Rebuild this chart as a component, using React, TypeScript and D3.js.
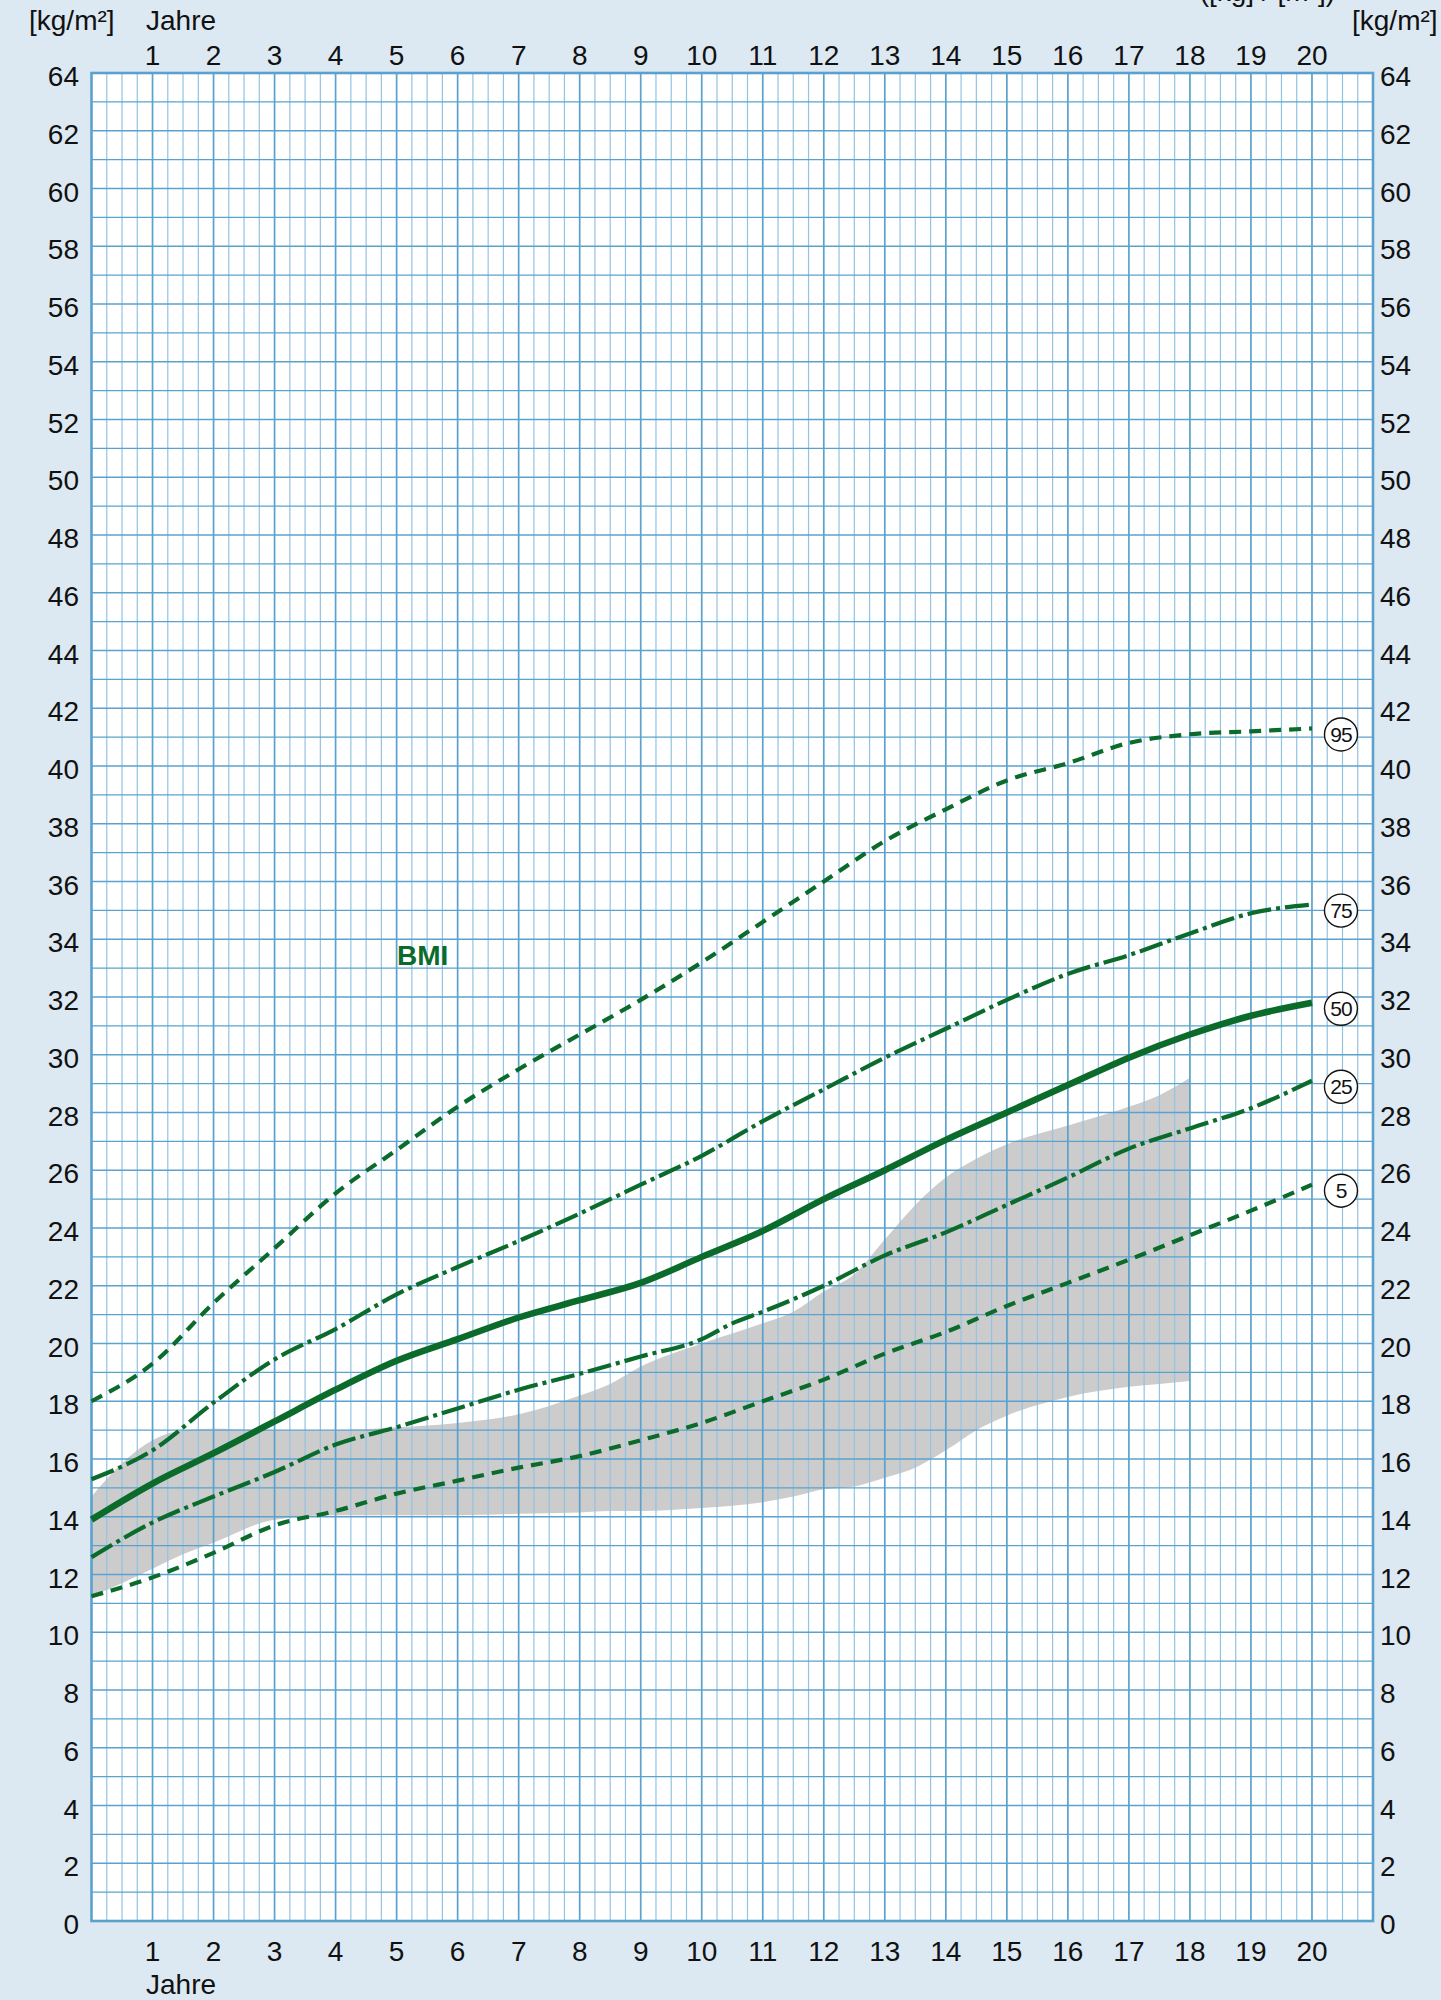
import React, { useEffect, useRef } from 'react';
import * as d3 from 'd3';

// percentile curves, age in years -> BMI in kg/m²
const ages = [0, 1, 2, 3, 4, 5, 6, 7, 8, 9, 10, 11, 12, 13, 14, 15, 16, 17, 18, 19, 20];
const p95 = [18.0, 19.3, 21.4, 23.3, 25.2, 26.7, 28.2, 29.5, 30.7, 31.9, 33.2, 34.6, 36.0, 37.4, 38.5, 39.5, 40.1, 40.8, 41.1, 41.2, 41.3];
const p75 = [15.3, 16.3, 17.95, 19.45, 20.5, 21.7, 22.65, 23.55, 24.5, 25.5, 26.5, 27.7, 28.8, 29.9, 30.9, 31.9, 32.8, 33.45, 34.2, 34.9, 35.2];
const p50 = [13.9, 15.15, 16.2, 17.3, 18.4, 19.4, 20.15, 20.9, 21.5, 22.1, 23.0, 23.9, 25.0, 26.0, 27.05, 28.0, 28.95, 29.9, 30.7, 31.35, 31.8];
const p25Ages = [0, 1, 2, 3, 4, 5, 6, 7, 8, 9, 10, 10.5, 11, 12, 13, 14, 15, 16, 17, 18, 19, 20];
const p25 = [12.6, 13.8, 14.7, 15.55, 16.5, 17.1, 17.75, 18.4, 18.95, 19.55, 20.15, 20.7, 21.1, 22.0, 23.05, 23.85, 24.8, 25.75, 26.75, 27.45, 28.15, 29.1];
const p5 = [11.25, 11.9, 12.75, 13.7, 14.2, 14.8, 15.25, 15.7, 16.1, 16.65, 17.25, 18.0, 18.75, 19.65, 20.4, 21.3, 22.1, 22.9, 23.75, 24.6, 25.5];

// grey reference band
const bandAges = [0, 0.5, 1, 1.5, 2, 3, 4, 5, 6, 7, 8, 8.5, 9, 10, 11, 11.5, 12, 12.5, 13, 13.5, 14, 14.5, 15, 16, 17, 17.5, 18];
const bandUpper = [14.7, 15.85, 16.65, 17.0, 17.05, 17.0, 17.0, 17.1, 17.25, 17.55, 18.2, 18.6, 19.2, 20.0, 20.7, 21.1, 21.8, 22.4, 23.6, 24.8, 25.75, 26.4, 26.9, 27.55, 28.2, 28.6, 29.2];
const bandLower = [11.25, 11.7, 12.2, 12.7, 13.1, 13.9, 14.05, 14.05, 14.05, 14.1, 14.15, 14.2, 14.2, 14.3, 14.5, 14.7, 14.95, 15.05, 15.35, 15.7, 16.3, 17.0, 17.5, 18.15, 18.5, 18.6, 18.7];

const yearTicks = [1, 2, 3, 4, 5, 6, 7, 8, 9, 10, 11, 12, 13, 14, 15, 16, 17, 18, 19, 20];
const bmiTicks = [0, 2, 4, 6, 8, 10, 12, 14, 16, 18, 20, 22, 24, 26, 28, 30, 32, 34, 36, 38, 40, 42, 44, 46, 48, 50, 52, 54, 56, 58, 60, 62, 64];
const percentiles = ['95', '75', '50', '25', '5'];

const GREEN = '#0b6b2b';
const GRID = '#5aa2cd';
const GRID_LIGHT = '#93c3e2';
const FONT = 'Liberation Sans, Arial, Helvetica, sans-serif';

const lineStyle = {
  '95': { dash: '12 8', width: 4.2 },
  '75': { dash: '24 5 4 5', width: 4.2 },
  '50': { dash: null, width: 6.5 },
  '25': { dash: '24 5 4 5', width: 4.2 },
  '5': { dash: '12 8', width: 4.2 },
};

const BmiChart = () => {
  const svgRef = useRef<SVGSVGElement>(null);

  useEffect(() => {
    const width = 1441;
    const height = 2000;
    const svg = d3.select(svgRef.current);
    svg.selectAll('*').remove();
    svg.attr('width', width).attr('height', height);

    const x = d3.scaleLinear().domain([0, 21]).range([91.5, 1373]);
    const y = d3.scaleLinear().domain([0, 64]).range([1921, 73]);

    svg.append('rect').attr('width', width).attr('height', height).attr('fill', '#dce9f3');

    svg
      .append('rect')
      .attr('x', x(0))
      .attr('y', y(64))
      .attr('width', x(21) - x(0))
      .attr('height', y(0) - y(64))
      .attr('fill', '#fff');

    // grey band
    const bandData = bandAges.map((a, i) => ({ a, lo: bandLower[i], hi: bandUpper[i] }));
    svg
      .append('path')
      .datum(bandData)
      .attr('fill', '#cccccc')
      .attr(
        'd',
        d3
          .area<any>()
          .x((d) => x(d.a))
          .y0((d) => y(d.lo))
          .y1((d) => y(d.hi))
          .curve(d3.curveMonotoneX)
      );

    // grid
    const grid = svg.append('g');
    d3.range(1, 84).forEach((i) => {
      const isYear = i % 4 === 0;
      grid
        .append('line')
        .attr('x1', x(i / 4))
        .attr('x2', x(i / 4))
        .attr('y1', y(0))
        .attr('y2', y(64))
        .attr('stroke', isYear ? GRID : GRID_LIGHT)
        .attr('stroke-width', isYear ? 1.7 : 1.2);
    });
    d3.range(1, 64).forEach((v) => {
      grid
        .append('line')
        .attr('x1', x(0))
        .attr('x2', x(21))
        .attr('y1', y(v))
        .attr('y2', y(v))
        .attr('stroke', GRID)
        .attr('stroke-width', 1.4);
    });
    grid
      .append('rect')
      .attr('x', x(0))
      .attr('y', y(64))
      .attr('width', x(21) - x(0))
      .attr('height', y(0) - y(64))
      .attr('fill', 'none')
      .attr('stroke', GRID)
      .attr('stroke-width', 2.6);

    // percentile curves
    const series = {
      '95': ages.map((a, i) => [a, p95[i]]),
      '75': ages.map((a, i) => [a, p75[i]]),
      '50': ages.map((a, i) => [a, p50[i]]),
      '25': p25Ages.map((a, i) => [a, p25[i]]),
      '5': ages.map((a, i) => [a, p5[i]]),
    };
    const line = d3
      .line<number[]>()
      .x((d) => x(d[0]))
      .y((d) => y(d[1]))
      .curve(d3.curveMonotoneX);

    percentiles.forEach((p) => {
      const st = lineStyle[p];
      const path = svg
        .append('path')
        .datum(series[p])
        .attr('fill', 'none')
        .attr('stroke', GREEN)
        .attr('stroke-width', st.width)
        .attr('d', line);
      if (st.dash) path.attr('stroke-dasharray', st.dash);

      const last = series[p][series[p].length - 1];
      const lx = x(last[0]) + 29;
      const ly = y(last[1]) + 6;
      svg
        .append('circle')
        .attr('cx', lx)
        .attr('cy', ly)
        .attr('r', 16.5)
        .attr('fill', '#fff')
        .attr('stroke', '#111')
        .attr('stroke-width', 1.4);
      svg
        .append('text')
        .attr('x', lx)
        .attr('y', ly)
        .attr('dy', '0.36em')
        .attr('text-anchor', 'middle')
        .attr('font-family', FONT)
        .attr('font-size', 21)
        .attr('letter-spacing', -1)
        .attr('fill', '#111')
        .text(p);
    });

    svg
      .append('text')
      .attr('x', 397)
      .attr('y', y(33.1))
      .attr('font-family', FONT)
      .attr('font-size', 28)
      .attr('font-weight', 'bold')
      .attr('fill', GREEN)
      .text('BMI');

    // axis labels
    const label = (tx, ty, s, anchor = 'start') =>
      svg
        .append('text')
        .attr('x', tx)
        .attr('y', ty)
        .attr('text-anchor', anchor)
        .attr('font-family', FONT)
        .attr('font-size', 28)
        .attr('fill', '#111')
        .text(s);

    bmiTicks.forEach((v) => {
      label(79, y(v) + 13, String(v), 'end');
      label(1380, y(v) + 13, String(v));
    });
    yearTicks.forEach((t) => {
      label(x(t), 65, String(t), 'middle');
      label(x(t), 1961, String(t), 'middle');
    });
    label(146, 30, 'Jahre');
    label(146, 1994, 'Jahre');
    label(29, 30, '[kg/m²]');
    label(1352, 30, '[kg/m²]');
    // caption above the sheet, only its lower edge is inside the page
    label(1335, 1, '([kg] / [m²])', 'end');
  }, []);

  return (
    <div style={{ position: 'absolute', left: 0, top: 0 }}>
      <svg ref={svgRef} style={{ display: 'block' }}></svg>
    </div>
  );
};

export default function App() {
  return <BmiChart />;
}
